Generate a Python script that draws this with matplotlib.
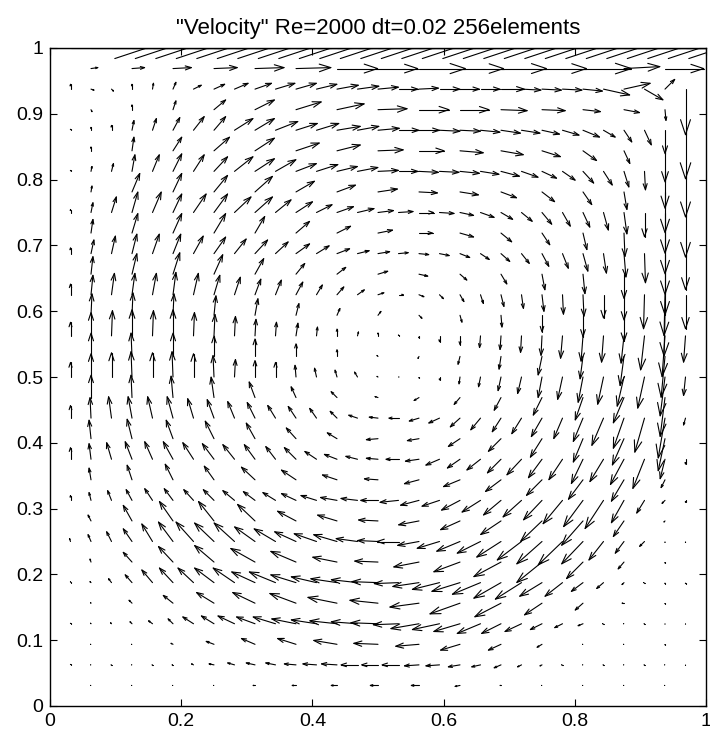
import matplotlib
matplotlib.use("Agg")
import matplotlib.pyplot as plt
from matplotlib.collections import LineCollection

plt.rcParams['font.family'] = ['Liberation Sans', 'DejaVu Sans']

TITLE = '"Velocity" Re=2000 dt=0.02 256elements'
N = 32                 # node intervals per side (16 x 16 quadratic elements)
LID_SPEED = 100        # velocities below are in hundredths of the lid speed
ARROW_SCALE = 0.1474   # arrow length (axis units) of a lid-speed vector
X_TICKS = [0, 0.2, 0.4, 0.6, 0.8, 1]
X_TICK_LABELS = ['0', '0.2', '0.4', '0.6', '0.8', '1']
Y_TICKS = [0, 0.1, 0.2, 0.3, 0.4, 0.5, 0.6, 0.7, 0.8, 0.9, 1]
Y_TICK_LABELS = ['0', '0.1', '0.2', '0.3', '0.4', '0.5', '0.6', '0.7', '0.8', '0.9', '1']

# (u, v) per interior node. Even rows j: columns i = 1..31; odd rows j: i = 2, 4, ..., 30
rows = {
    31: [(7,1),(13,1),(19,1),(24,1),(30,1),(36,1),(42,0),(41,0),(48,0),(45,0),(47,0),(46,0),(50,0),(37,2),(40,0)],
    30: [(0,5),(3,-1),(2,-2),(0,5),(1,6),(3,7),(8,4),(11,5),(14,6),(17,6),(20,6),(21,6),(21,5),(22,4),(22,3),(21,2),(20,0),(20,1),(21,0),(20,0),(20,0),(24,0),(20,-1),(20,-1),(20,-1),(20,-2),(27,-6),(27,6),(19,-11),(10,10),(0,-47)],
    29: [(1,-2),(0,5),(3,9),(12,10),(20,10),(26,8),(28,6),(30,1),(31,0),(30,0),(27,-1),(24,-1),(18,-2),(16,-3),(1,-11)],
    28: [(0,1),(0,3),(0,5),(2,10),(4,12),(7,13),(11,14),(12,14),(19,12),(20,12),(23,9),(22,7),(23,7),(24,4),(22,4),(22,2),(21,0),(21,0),(21,-1),(21,-1),(20,-2),(20,-3),(19,-3),(18,-4),(17,-5),(17,-7),(12,-7),(8,-12),(7,-15),(0,-24),(0,-50)],
    27: [(0,4),(2,14),(9,14),(16,14),(20,13),(24,8),(24,6),(26,1),(26,0),(24,-2),(23,-4),(19,-6),(14,-10),(6,-13),(0,-32)],
    26: [(0,1),(1,5),(2,8),(3,17),(7,17),(9,18),(11,17),(14,15),(19,15),(20,13),(21,12),(21,8),(22,7),(21,5),(21,4),(21,1),(20,0),(20,-1),(20,-1),(20,-2),(19,-3),(19,-5),(17,-6),(15,-7),(13,-9),(11,-12),(9,-14),(5,-16),(1,-19),(0,-38),(0,-47)],
    25: [(1,6),(8,19),(9,19),(14,17),(18,16),(19,11),(19,7),(20,3),(19,-1),(19,-3),(16,-6),(13,-10),(9,-13),(3,-18),(0,-42)],
    24: [(0,3),(2,10),(5,16),(6,21),(9,21),(9,19),(13,19),(14,19),(17,16),(18,16),(16,13),(17,11),(16,8),(17,6),(17,4),(16,2),(15,1),(15,0),(15,-1),(14,-3),(14,-5),(12,-7),(11,-9),(10,-12),(8,-14),(7,-15),(5,-18),(3,-22),(0,-25),(0,-42),(0,-46)],
    23: [(2,14),(6,20),(9,20),(12,20),(10,17),(14,12),(14,7),(15,3),(14,0),(14,-4),(11,-9),(8,-12),(4,-17),(1,-24),(0,-42)],
    22: [(0,6),(3,14),(4,18),(5,20),(7,20),(8,20),(10,18),(12,17),(12,15),(13,14),(13,12),(14,10),(13,8),(13,5),(12,3),(12,2),(10,1),(10,-1),(10,-2),(10,-4),(9,-6),(9,-8),(8,-10),(7,-13),(6,-15),(5,-18),(3,-20),(2,-24),(1,-30),(0,-42),(0,-37)],
    21: [(2,18),(5,21),(7,22),(9,20),(9,16),(9,11),(9,7),(10,3),(9,-2),(7,-6),(6,-10),(3,-16),(2,-20),(0,-25),(0,-42)],
    20: [(0,11),(2,20),(3,22),(3,22),(4,22),(3,23),(5,22),(6,20),(6,18),(6,16),(6,15),(7,13),(6,10),(7,8),(7,5),(6,2),(5,0),(5,-2),(4,-4),(4,-7),(3,-9),(3,-12),(2,-14),(2,-17),(1,-20),(1,-22),(0,-24),(0,-26),(-1,-35),(-1,-42),(0,-35)],
    19: [(1,22),(1,23),(1,22),(2,20),(3,17),(3,12),(3,7),(3,4),(3,-3),(2,-7),(1,-12),(0,-17),(0,-22),(0,-27),(-1,-42)],
    18: [(0,14),(0,24),(1,26),(0,27),(1,26),(0,27),(1,24),(1,22),(1,20),(1,17),(1,14),(2,13),(1,9),(0,7),(1,4),(0,3),(0,1),(0,-2),(0,-6),(0,-9),(-1,-12),(-1,-14),(-1,-17),(-1,-20),(-2,-23),(-2,-26),(-2,-27),(-3,-28),(-4,-35),(-3,-42),(-2,-27)],
    17: [(0,24),(-1,24),(0,24),(0,21),(0,18),(0,13),(0,7),(-1,1),(-1,-2),(-2,-8),(-2,-13),(-4,-19),(-3,-23),(-4,-30),(-4,-42)],
    16: [(0,15),(0,24),(0,25),(-1,26),(0,25),(-1,26),(0,24),(-1,22),(1,18),(0,17),(0,15),(-1,12),(-2,9),(-2,7),(-3,5),(-1,0.6),(0.5,0),(0,-1),(0,-3),(-1,-7),(-2,-10),(-3,-14),(-4,-17),(-4,-21),(-5,-23),(-5,-26),(-6,-28),(-7,-30),(-7,-32),(-5,-40),(-2,-19)],
    15: [(0,23),(-1,23),(-2,22),(-3,21),(-6,16),(-5,11),(-6,6),(-3,1),(-5,-3),(-6,-7),(-7,-13),(-9,-18),(-8,-23),(-11,-26),(-5,-40)],
    14: [(0,13),(-1,21),(-3,22),(-4,22),(-5,22),(-6,22),(-6,20),(-7,19),(-7,17),(-8,16),(-8,13),(-8,12),(-7,10),(-7,7),(-9,3),(-9,1),(-10,0),(-10,-3),(-11,-5),(-10,-9),(-10,-12),(-9,-14),(-10,-16),(-11,-19),(-9,-21),(-10,-24),(-12,-28),(-11,-31),(-10,-35),(-7,-41),(-2,-7)],
    13: [(-2,19),(-5,20),(-7,19),(-9,18),(-9,16),(-10,11),(-10,6),(-12,-1),(-12,-2),(-12,-8),(-13,-13),(-12,-19),(-10,-24),(-12,-27),(-7,-33)],
    12: [(0,12),(-2,16),(-5,17),(-7,18),(-8,18),(-10,18),(-11,17),(-12,16),(-12,15),(-11,15),(-10,13),(-12,12),(-12,8),(-13,5),(-12,3),(-12,1),(-13,0),(-14,-2),(-14,-6),(-13,-9),(-14,-11),(-14,-14),(-15,-16),(-14,-19),(-14,-21),(-12,-25),(-14,-23),(-14,-26),(-12,-30),(-5,-20),(0,-5)],
    11: [(-2,12),(-5,15),(-8,16),(-10,14),(-14,13),(-15,10),(-15,5),(-14,1),(-15,-4),(-17,-7),(-16,-12),(-16,-16),(-15,-20),(-13,-22),(-4,-8)],
    10: [(0,5),(-2,8),(-4,10),(-6,11),(-8,12),(-9,12),(-10,11),(-11,11),(-12,10),(-12,9),(-13,8),(-15,7),(-16,5),(-17,3),(-17,2),(-18,0),(-19,-2),(-19,-5),(-18,-6),(-19,-10),(-19,-12),(-18,-15),(-19,-17),(-19,-20),(-20,-24),(-20,-27),(-19,-29),(-13,-23),(-8,-13),(-3,-3),(0,-2)],
    9:  [(-3,6),(-9,16),(-14,20),(-16,20),(-18,17),(-19,10),(-20,6),(-20,1),(-21,-4),(-20,-9),(-21,-14),(-22,-21),(-22,-25),(-11,-16),(-1,-1)],
    8:  [(-1,3),(-3,7),(-5,10),(-9,13),(-11,18),(-15,20),(-18,20),(-20,19),(-21,19),(-21,15),(-22,13),(-22,10),(-23,8),(-24,7),(-22,3),(-21,1),(-22,0),(-22,-4),(-23,-7),(-24,-10),(-24,-12),(-25,-16),(-25,-19),(-26,-23),(-25,-24),(-22,-23),(-15,-19),(-9,-12),(-5,-5),(0,-1),(0,-1)],
    7:  [(-1,3),(-9,10),(-15,16),(-20,17),(-25,14),(-26,11),(-25,5),(-24,1),(-26,-5),(-27,-10),(-28,-15),(-26,-21),(-17,-17),(-6,-7),(0,-1)],
    6:  [(0,1),(-1,1),(-3,4),(-7,8),(-11,13),(-14,15),(-16,15),(-20,15),(-22,15),(-24,11),(-27,11),(-26,8),(-26,6),(-27,4),(-27,3),(-27,1),(-25,-1),(-27,-4),(-28,-7),(-29,-9),(-29,-12),(-28,-16),(-27,-17),(-23,-14),(-18,-14),(-12,-9),(-7,-6),(-2,-2),(-1,0),(0,-1),(0,-1)],
    5:  [(-0.5,0.5),(-3,3),(-10,8),(-18,11),(-23,11),(-27,10),(-30,6),(-29,3),(-30,-4),(-31,-11),(-27,-14),(-18,-12),(-8,-7),(-2,0),(0,-0.5)],
    4:  [(0,0.5),(-0.5,0.5),(-1,1),(-2,2),(-4,3),(-5,5),(-11,7),(-13,8),(-17,8),(-19,7),(-23,7),(-25,5),(-26,4),(-28,3),(-27,2),(-28,1),(-26,-1),(-29,-5),(-28,-6),(-27,-8),(-24,-10),(-20,-10),(-17,-8),(-12,-6),(-8,-4),(-5,-2),(-1,0),(-0.5,0),(-0.5,0),(0,-0.5),(0,-0.5)],
    3:  [(-0.5,0),(-0.5,0),(-2,1),(-8,3),(-14,6),(-19,6),(-24,4),(-25,1),(-24,-2),(-20,-6),(-13,-6),(-5,-3),(-0.5,0),(-0.5,0),(0,-0.5)],
    2:  [(0,0.5),(-0.5,0),(-0.5,0),(-0.5,0),(-0.5,0),(-1,0),(-2,1),(-5,1),(-7,2),(-9,2),(-10,2),(-12,1),(-14,1),(-16,1),(-17,0),(-17,0),(-17,0),(-15,-1),(-14,-1),(-12,-2),(-9,-2),(-7,-3),(-4,-2),(-2,-1),(-1,0),(-0.5,0),(-0.5,0),(-0.5,0),(-0.5,0),(-0.5,0),(0,-0.5)],
    1:  [(-0.5,0),(-0.5,0),(-0.5,0),(-0.5,0),(-2,0),(-4,0),(-6,0),(-8,0),(-8,0),(-5,-1),(-1,0),(-0.5,0),(-0.5,0),(-0.5,0),(-0.5,0)],
}

# assemble nodes: moving lid (top row) + interior nodes (walls are at rest)
xs, ys, us, vs = [], [], [], []
for i in range(N + 1):
    xs.append(i / N); ys.append(1.0); us.append(LID_SPEED); vs.append(0.0)
for j, vals in rows.items():
    cols = list(range(1, N)) if j % 2 == 0 else list(range(2, N, 2))
    assert len(cols) == len(vals), (j, len(vals))
    for i, (u, v) in zip(cols, vals):
        xs.append(i / N); ys.append(j / N); us.append(u); vs.append(v)

# MATLAB-style line arrows (shaft + open head)
alpha, beta = 0.33, 0.33
segs = []
for x, y, u, v in zip(xs, ys, us, vs):
    du = u / LID_SPEED * ARROW_SCALE
    dv = v / LID_SPEED * ARROW_SCALE
    tx, ty = x + du, y + dv
    segs.append([(x, y), (tx, ty)])
    segs.append([(tx - alpha * (du + beta * dv), ty - alpha * (dv - beta * du)),
                 (tx, ty),
                 (tx - alpha * (du - beta * dv), ty - alpha * (dv + beta * du))])

fig = plt.figure(figsize=(7.1, 7.4), dpi=100)
ax = fig.add_axes([50 / 710, 34 / 740, 656 / 710, 658 / 740])
lc = LineCollection(segs, colors='black', linewidths=0.8, capstyle='round')
ax.add_collection(lc)
ax.set_xlim(0, 1)
ax.set_ylim(0, 1)
ax.set_xticks(X_TICKS)
ax.set_xticklabels(X_TICK_LABELS)
ax.set_yticks(Y_TICKS)
ax.set_yticklabels(Y_TICK_LABELS)
ax.tick_params(direction='in', length=5, width=0.8, top=True, right=True,
               labelsize=14, pad=5)
for s in ax.spines.values():
    s.set_linewidth(1.0)
ax.set_title(TITLE, fontsize=16, pad=10)
fig.savefig('out.png', dpi=100)
